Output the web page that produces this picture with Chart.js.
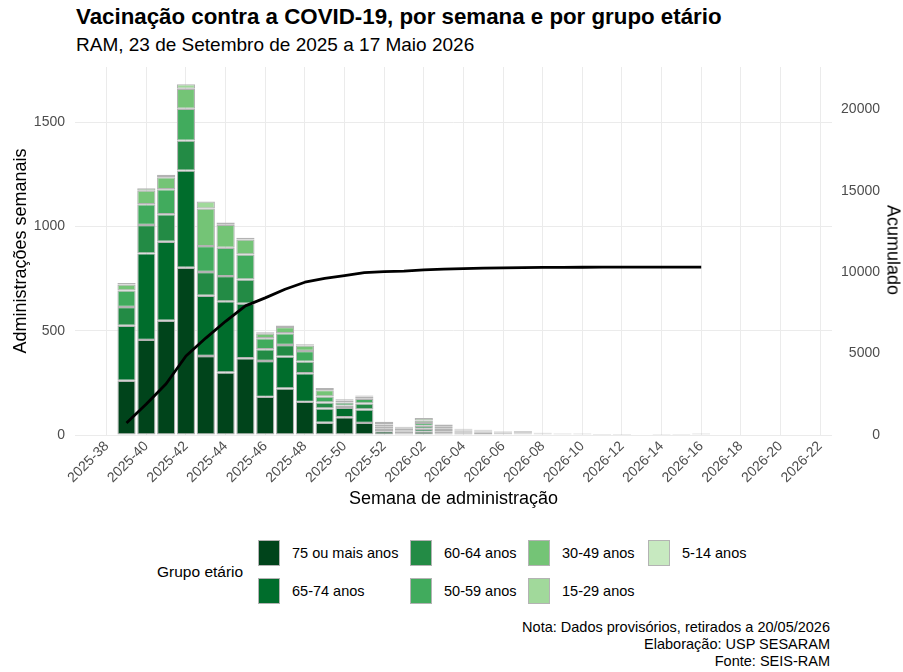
<!DOCTYPE html>
<html lang="pt">
<head>
  <meta charset="UTF-8">
  <title>Vacinação contra a COVID-19 - RAM</title>
  <script src="https://cdn.jsdelivr.net/npm/chart.js@4"></script>
  <style>
    body { margin: 0; background: #fff; font-family: "Liberation Sans", Arial, sans-serif; }
    #pagina { position: relative; width: 903px; height: 672px; overflow: hidden; background: #fff; }
    #titulo { position: absolute; left: 76px; top: 4px; font-size: 22.3px; font-weight: bold; color: #000; white-space: nowrap; }
    #subtitulo { position: absolute; left: 76px; top: 34px; font-size: 19px; color: #000; white-space: nowrap; }
    #caixa-grafico { position: absolute; left: 0; top: 48px; width: 903px; height: 464px; }
    #titulo-acumulado { position: absolute; left: 893px; top: 250px; font-size: 18px; color: #000; white-space: nowrap;
      transform: translate(-50%, -50%) rotate(90deg); }
    #legenda-titulo { position: absolute; left: 157px; top: 563px; font-size: 15.5px; color: #000; white-space: nowrap; }
    .chave { position: absolute; width: 22px; height: 26px; box-sizing: border-box; border: 1.5px solid #b3b3b3; }
    .rotulo { position: absolute; font-size: 14.5px; color: #000; white-space: nowrap; line-height: 26px; }
    #nota { position: absolute; right: 73px; top: 619px; font-size: 14.5px; line-height: 17px; color: #000; text-align: right; white-space: nowrap; }
  </style>
</head>
<body>
  <div id="pagina">
    <div id="titulo">Vacinação contra a COVID-19, por semana e por grupo etário</div>
    <div id="subtitulo">RAM, 23 de Setembro de 2025 a 17 Maio 2026</div>
    <div id="caixa-grafico"><canvas id="grafico"></canvas></div>
    <div id="titulo-acumulado">Acumulado</div>
    <div id="legenda-titulo">Grupo etário</div>
    <div id="legenda"></div>
    <div id="nota">Nota: Dados provisórios, retirados a 20/05/2026<br>Elaboração: USP SESARAM<br>Fonte: SEIS-RAM</div>
  </div>

  <script>
    // Semanas do eixo (2025-38 a 2026-22)
    const semanas = [
      '2025-38', '2025-39', '2025-40', '2025-41', '2025-42', '2025-43', '2025-44', '2025-45',
      '2025-46', '2025-47', '2025-48', '2025-49', '2025-50', '2025-51', '2025-52',
      '2026-01', '2026-02', '2026-03', '2026-04', '2026-05', '2026-06', '2026-07', '2026-08',
      '2026-09', '2026-10', '2026-11', '2026-12', '2026-13', '2026-14', '2026-15', '2026-16',
      '2026-17', '2026-18', '2026-19', '2026-20', '2026-21', '2026-22'
    ];
    // Semanas com dados (2025-39 a 2026-16)
    const semanasDados = semanas.slice(1, 31);
    // Marcas dos eixos
    const marcasX = ['2025-38', '2025-40', '2025-42', '2025-44', '2025-46', '2025-48', '2025-50', '2025-52',
      '2026-02', '2026-04', '2026-06', '2026-08', '2026-10', '2026-12', '2026-14', '2026-16',
      '2026-18', '2026-20', '2026-22'];
    const marcasY = [0, 500, 1000, 1500];
    const marcasY2 = [0, 5000, 10000, 15000, 20000];

    const grupos = ['75 ou mais anos', '65-74 anos', '60-64 anos', '50-59 anos', '30-49 anos', '15-29 anos', '5-14 anos'];
    const cores = ['#00441b', '#006d2c', '#238b45', '#41ab5d', '#74c476', '#a1d99b', '#c7e9c0'];

    // Administrações semanais por grupo etário
    const g75mais = [260, 456, 548, 802, 379, 300, 368, 183, 223, 159, 59, 85, 58, 18, 8, 16, 8, 6, 5, 3, 4, 2, 2, 2, 1, 1, 0, 1, 1, 2];
    const g65a74  = [264, 415, 379, 466, 289, 341, 262, 172, 153, 137, 68, 45, 64, 12, 8, 14, 8, 5, 4, 3, 3, 2, 2, 2, 1, 1, 0, 1, 1, 2];
    const g60a64  = [90, 136, 132, 144, 114, 121, 116, 56, 56, 56, 29, 11, 29, 10, 7, 14, 8, 5, 4, 3, 3, 2, 1, 1, 1, 1, 0, 1, 1, 1];
    const g50a59  = [79, 100, 120, 153, 124, 136, 120, 53, 56, 51, 29, 15, 23, 10, 7, 14, 8, 5, 4, 3, 3, 2, 1, 1, 1, 1, 0, 1, 1, 1];
    const g30a49  = [29, 65, 57, 96, 180, 110, 72, 22, 30, 26, 30, 9, 11, 8, 5, 12, 8, 5, 4, 3, 3, 2, 1, 1, 1, 1, 0, 0, 0, 1];
    const g15a29  = [7, 12, 12, 21, 34, 11, 8, 7, 7, 6, 11, 7, 5, 5, 4, 12, 10, 4, 4, 3, 3, 1, 1, 1, 0, 0, 0, 0, 0, 1];
    const g5a14   = [0, 0, 0, 0, 0, 0, 0, 0, 0, 0, 0, 0, 0, 0, 0, 0, 0, 0, 0, 0, 0, 0, 0, 0, 0, 0, 0, 0, 0, 0];
    const valores = [g75mais, g65a74, g60a64, g50a59, g30a49, g15a29, g5a14];

    // Total acumulado
    const acumulado = [740, 1900, 3150, 4850, 5950, 6980, 7930, 8420, 8950, 9380, 9610, 9790, 9970, 10030, 10060,
      10140, 10185, 10215, 10240, 10262, 10275, 10285, 10292, 10297, 10300, 10302, 10302, 10304, 10306, 10310];

    const maxSemanal = 1765;
    const fatorAcumulado = 12.8; // escala do eixo secundário

    const posX = s => semanas.indexOf(s);

    const conjuntos = grupos.map((g, k) => ({
      type: 'bar',
      label: g,
      data: valores[k].map((v, i) => ({ x: posX(semanasDados[i]), y: v })),
      backgroundColor: cores[k],
      borderColor: '#b3b3b3',
      borderWidth: 1.2,
      borderSkipped: false,
      barPercentage: 0.92,
      categoryPercentage: 1,
      stack: 'doses',
      yAxisID: 'y',
      order: 1
    }));

    conjuntos.push({
      type: 'line',
      label: 'Acumulado',
      data: acumulado.map((v, i) => ({ x: posX(semanasDados[i]), y: v })),
      borderColor: '#000',
      borderWidth: 2.8,
      pointRadius: 0,
      tension: 0,
      borderJoinStyle: 'round',
      yAxisID: 'y2',
      order: 0
    });

    Chart.defaults.font.family = '"Liberation Sans", Arial, sans-serif';
    Chart.defaults.color = '#4d4d4d';

    // tira as margens automáticas dos rótulos para fixar a área do gráfico
    const semMargem = s => { s.paddingLeft = 0; s.paddingRight = 0; s.paddingTop = 0; s.paddingBottom = 0; };

    new Chart(document.getElementById('grafico'), {
      type: 'bar',
      data: { datasets: conjuntos },
      options: {
        responsive: true,
        maintainAspectRatio: false,
        animation: false,
        layout: { padding: { top: 19, left: 0, right: 23, bottom: 0 } },
        plugins: { legend: { display: false }, tooltip: { enabled: false } },
        scales: {
          x: {
            type: 'linear',
            min: -1.6,
            max: 36.6,
            offset: false,
            stacked: true,
            grid: { color: '#ebebeb', drawTicks: false, offset: false },
            border: { display: false },
            afterBuildTicks: s => { s.ticks = marcasX.map(m => ({ value: posX(m) })); },
            afterFit: s => { s.height = 77; semMargem(s); },
            ticks: {
              autoSkip: false, minRotation: 45, maxRotation: 45, padding: 3,
              color: '#4d4d4d', font: { size: 14 },
              callback: v => semanas[v]
            },
            title: { display: true, text: 'Semana de administração', color: '#000', font: { size: 18 }, padding: { top: 0, bottom: 2 } }
          },
          y: {
            position: 'left',
            min: 0,
            max: maxSemanal,
            stacked: true,
            grid: { color: '#ebebeb', drawTicks: false },
            border: { display: false },
            afterBuildTicks: s => { s.ticks = marcasY.map(v => ({ value: v })); },
            afterFit: s => { s.width = 75; semMargem(s); },
            ticks: { padding: 10, color: '#4d4d4d', font: { size: 14 }, callback: v => String(v) },
            title: { display: true, text: 'Administrações semanais', color: '#000', font: { size: 18 }, padding: { top: 10, bottom: 0 } }
          },
          y2: {
            position: 'right',
            min: 0,
            max: maxSemanal * fatorAcumulado,
            grid: { display: false, drawTicks: false },
            border: { display: false },
            afterBuildTicks: s => { s.ticks = marcasY2.map(v => ({ value: v })); },
            afterFit: s => { s.width = 48; semMargem(s); },
            ticks: { padding: 8, crossAlign: 'far', color: '#4d4d4d', font: { size: 14 }, callback: v => String(v) }
          }
        }
      }
    });

    // Legenda em 4 colunas x 2 linhas (preenchida por coluna)
    const colunas = [258, 410, 528, 648];
    const linhas = [540, 578];
    const legenda = document.getElementById('legenda');
    grupos.forEach((g, k) => {
      const col = Math.floor(k / 2), lin = k % 2;
      const chave = document.createElement('div');
      chave.className = 'chave';
      chave.style.left = colunas[col] + 'px';
      chave.style.top = linhas[lin] + 'px';
      chave.style.background = cores[k];
      legenda.appendChild(chave);
      const rotulo = document.createElement('div');
      rotulo.className = 'rotulo';
      rotulo.style.left = (colunas[col] + 34) + 'px';
      rotulo.style.top = linhas[lin] + 'px';
      rotulo.textContent = g;
      legenda.appendChild(rotulo);
    });
  </script>
</body>
</html>
